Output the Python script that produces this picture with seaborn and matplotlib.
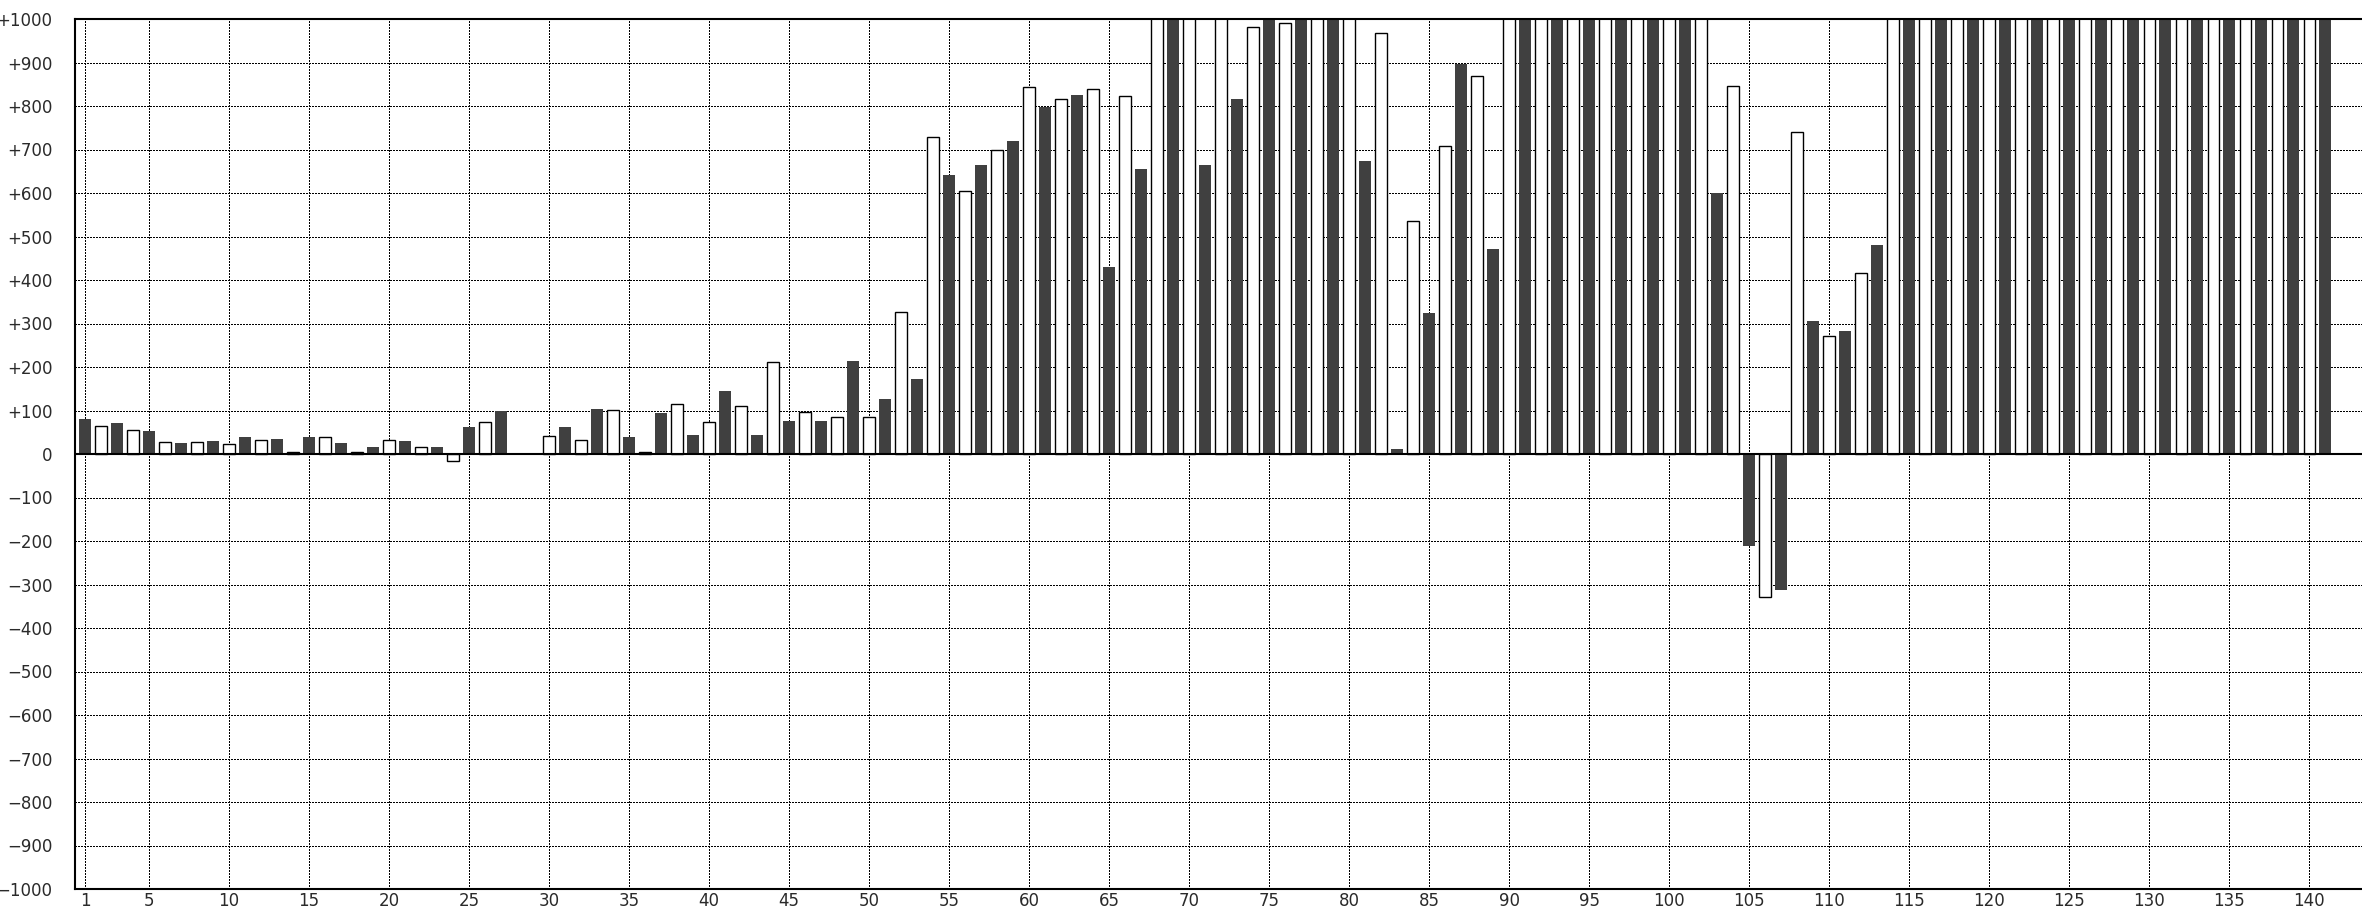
import numpy as np
import pandas as pd
import matplotlib
matplotlib.use("Agg")
import matplotlib.pyplot as plt
import seaborn as sns

# ---- data (bar index -> value; None = no bar; values above 1000 are clipped in the chart) ----
positions = list(range(1, 142))
values = [
    80, 65, 71, 56, 53, 28, 25, 28, 30, 24,            # 1-10
    39, 33, 35, 5, 39, 38, 25, 5, 16, 33,               # 11-20
    30, 15, 16, -15, 62, 74, 99, None, None, 42,        # 21-30
    62, 33, 103, 102, 39, 5, 94, 116, 44, 74,           # 31-40
    145, 111, 44, 212, 76, 97, 76, 84, 214, 84,         # 41-50
    127, 327, 173, 728, 642, 604, 665, 700, 720, 843,   # 51-60
    798, 815, 826, 838, 430, 824, 656, 1100, 1100, 1100,  # 61-70
    665, 1100, 817, 981, 1100, 990, 1100, 1100, 1100, 1100,  # 71-80
    674, 967, 12, 535, 324, 709, 896, 870, 472, 1100,   # 81-90
    1100, 1100, 1100, 1100, 1100, 1100, 1100, 1100, 1100, 1100,  # 91-100
    1100, 1100, 600, 847, -212, -329, -312, 741, 306, 272,  # 101-110
    283, 415, 481, 1100, 1100, 1100, 1100, 1100, 1100, 1100,  # 111-120
    1100, 1100, 1100, 1100, 1100, 1100, 1100, 1100, 1100, 1100,  # 121-130
    1100, 1100, 1100, 1100, 1100, 1100, 1100, 1100, 1100, 1100,  # 131-140
    1100,                                               # 141
]
x_ticks = [1] + list(range(5, 141, 5))
y_ticks = list(range(-1000, 1001, 100))
y_tick_labels = [("+%d" % v) if v > 0 else ("0" if v == 0 else "\u2212%d" % (-v)) for v in y_ticks]

DARK = "#404040"
LIGHT = "#ffffff"

df = pd.DataFrame({"pos": positions, "value": values})
df = df.dropna()
df["shade"] = np.where(df["pos"] % 2 == 1, "dark", "light")

sns.set_style("white")
plt.rcParams["font.family"] = ["DejaVu Sans"]

fig = plt.figure(figsize=(23.62, 9.08), dpi=100)
W, H = 2362, 908
ax = fig.add_axes([74.7 / W, (H - 889) / H, 1 - 74.7 / W, (889 - 19) / H])

sns.barplot(data=df, x="pos", y="value", hue="shade",
            palette={"dark": DARK, "light": LIGHT},
            native_scale=True, dodge=False, width=0.75, saturation=1,
            legend=False, ax=ax, zorder=2)

for p in ax.patches:
    fc = p.get_facecolor()
    if fc[0] > 0.9:
        p.set_edgecolor("black")
        p.set_linewidth(1.0)
        p.set_width(p.get_width() - 0.04)
        p.set_x(p.get_x() + 0.02)
    else:
        p.set_edgecolor("none")
        p.set_linewidth(0)

ax.set_xlim(0.356, 143.3)
ax.set_ylim(-1000, 1000)
ax.set_xticks(x_ticks)
ax.set_xticklabels([str(t) for t in x_ticks])
ax.set_yticks(y_ticks)
ax.set_yticklabels(y_tick_labels)
ax.set_xlabel("")
ax.set_ylabel("")

ax.set_axisbelow(True)
ax.grid(True, which="major", axis="both", color="black",
        linestyle=(0, (1, 1.1)), linewidth=1.05, zorder=0)
for gl in ax.get_xgridlines() + ax.get_ygridlines():
    gl.set_antialiased(False)

ax.axhline(0, color="black", linewidth=1.5, zorder=3)

for side in ["left", "top", "bottom"]:
    ax.spines[side].set_visible(True)
    ax.spines[side].set_color("black")
    ax.spines[side].set_linewidth(1.5)
ax.spines["right"].set_visible(False)

ax.tick_params(axis="both", which="both", length=0, labelsize=12, labelcolor="#2a2a2a")
ax.tick_params(axis="y", pad=16)
ax.tick_params(axis="x", pad=2)

fig.savefig("out.png", dpi=100)
